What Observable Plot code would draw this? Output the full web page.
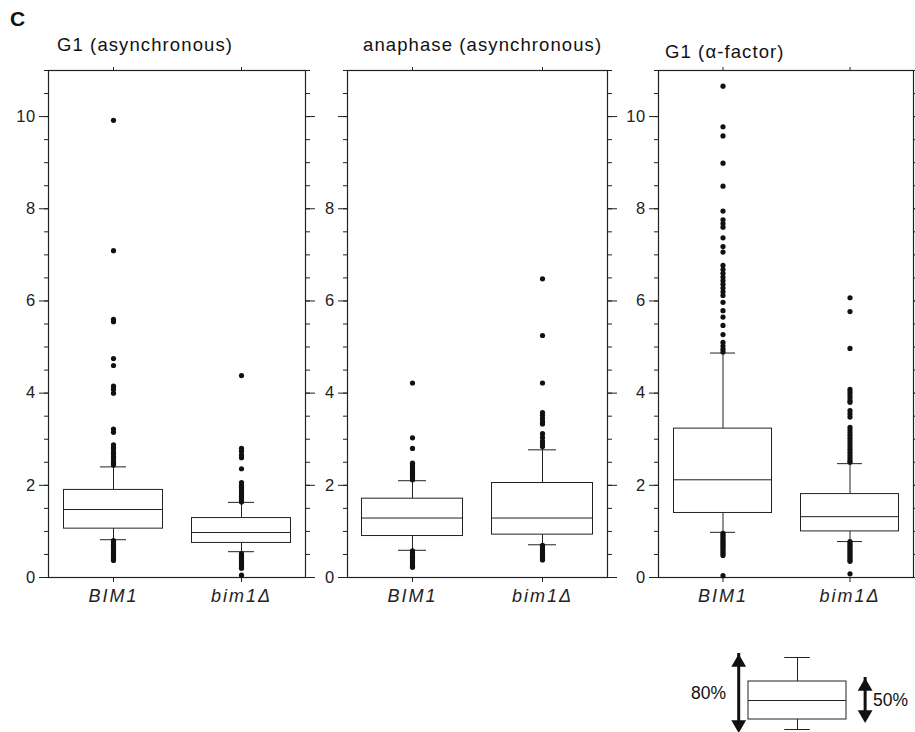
<!DOCTYPE html>
<html><head><meta charset="utf-8">
<script src="https://cdn.jsdelivr.net/npm/d3@7"></script>
<script src="https://cdn.jsdelivr.net/npm/@observablehq/plot@0.6"></script>
<style>
body{margin:0;background:#fff;}
#fig{position:relative;width:915px;height:732px;font-family:"Liberation Sans",Arial,sans-serif;overflow:hidden;background:#fff;}
.t{position:absolute;white-space:nowrap;font-size:18.5px;letter-spacing:1.1px;line-height:18px;color:#111;}
.c{position:absolute;font-size:21px;font-weight:bold;line-height:21px;color:#111;}
#fig svg{position:absolute;overflow:visible;}
#fig g[aria-label="x-axis tick label"] text{font-style:italic;letter-spacing:2px;}
#fig g[aria-label="y-axis tick label"] text{letter-spacing:0.4px;}
</style></head><body><div id="fig"></div>
<script>
// ---- data ----
const strains = ["BIM1", "bim1Δ"];
const panelTitles = ["G1 (asynchronous)", "anaphase (asynchronous)", "G1 (α-factor)"];
const yTickLabels = [[0,2,4,6,8,10],[0,2,4,6,8],[0,2,4,6,8,10]];
// box statistics per panel: [BIM1, bim1Δ]
const p10    = [[0.82,0.56],[0.59,0.71],[0.98,0.78]];
const q1     = [[1.06,0.75],[0.90,0.93],[1.40,1.00]];
const median = [[1.475,0.976],[1.29,1.29],[2.12,1.32]];
const q3     = [[1.90,1.29],[1.71,2.05],[3.23,1.81]];
const p90    = [[2.40,1.63],[2.10,2.77],[4.87,2.47]];
// outliers
const outG1asyncBIM1 = [9.92,7.09,5.6,5.55,4.75,4.6,4.15,4.08,4.0,3.22,3.15,2.88,2.82,2.78,2.72,2.68,2.62,2.58,2.52,2.48,2.44,
  0.80,0.76,0.72,0.68,0.64,0.60,0.56,0.52,0.48,0.44,0.40,0.37];
const outG1asyncBim1d = [4.38,2.80,2.74,2.66,2.60,2.36,2.06,2.00,1.96,1.92,1.88,1.84,1.80,1.76,1.72,1.68,1.64,
  0.52,0.48,0.44,0.40,0.36,0.32,0.28,0.24,0.20,0.05];
const outAnaBIM1 = [4.22,3.03,2.80,2.48,2.44,2.40,2.36,2.32,2.28,2.24,2.20,2.16,2.12,
  0.58,0.54,0.50,0.46,0.42,0.38,0.34,0.30,0.26,0.22];
const outAnaBim1d = [6.48,5.25,4.22,3.58,3.52,3.45,3.38,3.33,3.12,3.04,2.96,2.90,2.84,
  0.70,0.66,0.62,0.58,0.54,0.50,0.46,0.42,0.38];
const outAlphaBIM1 = [10.66,9.78,9.58,8.99,8.49,7.95,7.76,7.68,7.60,7.37,7.18,7.06,6.77,6.68,6.60,6.52,6.44,6.36,6.28,6.20,6.12,
  5.97,5.79,5.65,5.47,5.27,5.10,5.02,4.95,4.89,
  0.96,0.92,0.88,0.84,0.80,0.76,0.72,0.68,0.64,0.60,0.56,0.52,0.48,0.04];
const outAlphaBim1d = [6.07,5.77,4.97,4.08,4.02,3.96,3.90,3.84,3.80,3.62,3.55,3.48,3.26,3.20,3.14,3.08,3.02,2.96,2.90,2.84,2.78,2.72,2.66,2.60,2.54,2.50,
  0.78,0.74,0.70,0.66,0.62,0.58,0.54,0.50,0.46,0.42,0.38,0.35,0.08];
const outliers = [[outG1asyncBIM1,outG1asyncBim1d],[outAnaBIM1,outAnaBim1d],[outAlphaBIM1,outAlphaBim1d]];
// key schematic (arbitrary units)
const keyStats = {p10:0, q1:10, med:29, q3:48, p90:72};
const keyLabels = ["80%", "50%"];

// ---- layout ----
const fig = document.getElementById("fig");
const frames = [[48,305],[347,607],[658,913]];
const titlePos = [[57,36],[363,36],[665,43]];
const ink = "#222";
const font = '"Liberation Sans", Arial, sans-serif';

const c = document.createElement("div");
c.className = "c"; c.textContent = "C"; c.style.left = "10px"; c.style.top = "8px";
fig.appendChild(c);

frames.forEach(([fl, fr], i) => {
  const mL = 45, mR = 15;
  const rows = strains.map((s, j) => ({strain: s, p10: p10[i][j], q1: q1[i][j], med: median[i][j], q3: q3[i][j], p90: p90[i][j]}));
  const outs = strains.flatMap((s, j) => outliers[i][j].map(v => ({strain: s, v})));
  const minor = d3.range(0, 11.001, 0.5);
  const major = [0,2,4,6,8,10];
  const svg = Plot.plot({
    width: fr - fl + mL + mR, height: 622,
    marginLeft: mL, marginRight: mR, marginTop: 70, marginBottom: 45,
    x: {type: "band", domain: strains, padding: 0, axis: null},
    y: {domain: [0, 11], axis: null},
    style: {fontFamily: font, fontSize: "16px", color: ink, background: "transparent", overflow: "visible"},
    marks: [
      Plot.axisY(minor, {anchor: "left", tickSize: 4, tickFormat: () => "", stroke: ink, label: null}),
      Plot.axisY(major, {anchor: "left", tickSize: 9, tickFormat: () => "", stroke: ink, label: null}),
      Plot.axisY(yTickLabels[i], {anchor: "left", tickSize: 0, tickPadding: 13, fontSize: 16.5, label: null}),
      Plot.axisY(minor, {anchor: "right", tickSize: 4, tickFormat: () => "", stroke: ink, label: null}),
      Plot.axisY(major, {anchor: "right", tickSize: 9, tickFormat: () => "", stroke: ink, label: null}),
      Plot.axisX(strains, {anchor: "top", tickSize: 4, tickFormat: () => "", stroke: ink, label: null}),
      Plot.axisX(strains, {anchor: "bottom", tickSize: 5, tickPadding: 7, fontSize: 18, fontStyle: "italic", stroke: ink, label: null}),
      Plot.frame({stroke: ink, strokeWidth: 1.2}),
      Plot.ruleX(rows, {x: "strain", y1: "q3", y2: "p90", stroke: ink}),
      Plot.ruleX(rows, {x: "strain", y1: "p10", y2: "q1", stroke: ink}),
      Plot.tickY(rows, {x: "strain", y: "p90", insetLeft: 51, insetRight: 51, stroke: ink}),
      Plot.tickY(rows, {x: "strain", y: "p10", insetLeft: 51, insetRight: 51, stroke: ink}),
      Plot.barY(rows, {x: "strain", y1: "q1", y2: "q3", fill: "white", stroke: ink, strokeWidth: 1, insetLeft: 14.5, insetRight: 14.5}),
      Plot.tickY(rows, {x: "strain", y: "med", insetLeft: 14.5, insetRight: 14.5, stroke: ink}),
      Plot.dot(outs, {x: "strain", y: "v", r: 2.6, fill: "#111", stroke: null})
    ]
  });
  svg.style.left = (fl - mL) + "px";
  svg.style.top = "0px";
  fig.appendChild(svg);

  const t = document.createElement("div");
  t.className = "t"; t.textContent = panelTitles[i];
  t.style.left = titlePos[i][0] + "px"; t.style.top = titlePos[i][1] + "px";
  fig.appendChild(t);
});

// ---- key ----
const k = keyStats;
const mid80 = (k.p10 + k.p90) / 2, mid50 = (k.q1 + k.q3) / 2;
const ends = [
  {x: -0.1, y1: mid80, y2: k.p90, up: true},
  {x: -0.1, y1: mid80, y2: k.p10, up: false},
  {x: 1.19, y1: mid50, y2: k.q3, up: true},
  {x: 1.19, y1: mid50, y2: k.q1, up: false}
];
const upEnds = ends.filter(d => d.up), downEnds = ends.filter(d => !d.up);
const key = Plot.plot({
  width: 235, height: 92, margin: 0,
  x: {domain: [0, 1], range: [68, 166], axis: null},
  y: {domain: [0, 72], range: [89, 17], axis: null},
  style: {fontFamily: font, fontSize: "17px", color: ink, background: "transparent", overflow: "visible"},
  marks: [
    Plot.ruleX([k], {x: 0.5, y1: "q3", y2: "p90", stroke: ink}),
    Plot.ruleX([k], {x: 0.5, y1: "p10", y2: "q1", stroke: ink}),
    Plot.ruleY([k], {y: "p90", x1: 0.37, x2: 0.63, stroke: ink}),
    Plot.ruleY([k], {y: "p10", x1: 0.37, x2: 0.63, stroke: ink}),
    Plot.rect([k], {x1: 0, x2: 1, y1: "q1", y2: "q3", fill: "white", stroke: ink}),
    Plot.ruleY([k], {y: "med", x1: 0, x2: 1, stroke: ink}),
    Plot.ruleX(ends, {x: "x", y1: "y1", y2: "y2", stroke: "#111", strokeWidth: 3, insetTop: 4, insetBottom: 4}),
    Plot.dot(upEnds, {x: "x", y: "y2", symbol: "triangle", r: 5.5, fill: "#111", stroke: null, rotate: 0, dy: 5}),
    Plot.dot(downEnds, {x: "x", y: "y2", symbol: "triangle", r: 5.5, fill: "#111", stroke: null, rotate: 180, dy: -5}),
    Plot.text([keyLabels[0]], {x: -0.23, y: mid80, text: d => d, textAnchor: "end", fontSize: 17.5, fill: "#111"}),
    Plot.text([keyLabels[1]], {x: 1.27, y: mid50, text: d => d, textAnchor: "start", fontSize: 17.5, fill: "#111"})
  ]
});
key.style.left = "680px"; key.style.top = "640px";
fig.appendChild(key);
</script></body></html>
